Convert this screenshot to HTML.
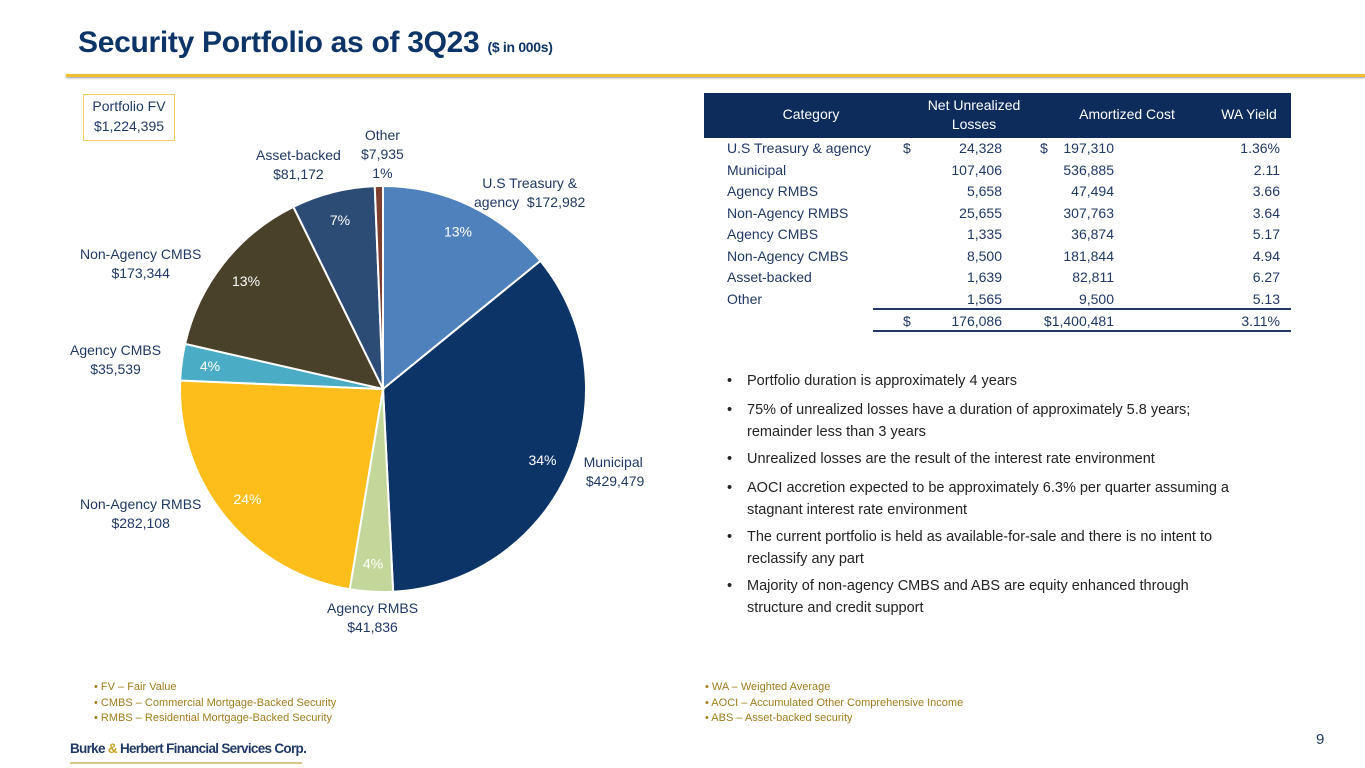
<!DOCTYPE html>
<html><head><meta charset="utf-8">
<style>
body{margin:0;width:1365px;height:768px;overflow:hidden;background:#fff;font-family:"Liberation Sans",sans-serif;position:relative}
.a{position:absolute;white-space:nowrap}
.lbl{position:absolute;text-align:center;font-size:14px;color:#1f3864;line-height:19px;white-space:nowrap}
.td{position:absolute;font-size:14px;color:#1f3864;line-height:20px}
.bul{position:absolute;left:727px;font-size:14.5px;color:#222;line-height:22px}
.bul span{position:absolute;left:20px;white-space:nowrap}
.fn{font-size:11px;color:#a07c1c;line-height:15.5px}
</style></head><body>
<div class="a" style="left:78px;top:26px;font-size:30px;font-weight:bold;color:#0d3466;letter-spacing:-0.3px">Security Portfolio as of 3Q23 <span style="font-size:14px">($ in 000s)</span></div>
<div class="a" style="left:66px;top:74px;width:1299px;height:3px;background:#f0be32;box-shadow:0 1px 2px #999"></div>

<div class="a" style="left:83px;top:94px;width:90px;height:44px;border:1.5px solid #f3cf66;text-align:center;font-size:14px;color:#1f3864;line-height:20px;padding-top:1px">Portfolio FV<br>$1,224,395</div>

<svg class="a" style="left:0;top:0" width="700" height="680" id="pie"></svg>

<div class="lbl" style="left:474px;top:174px">U.S Treasury &amp;<br>agency&nbsp; $172,982</div>
<div class="lbl" style="left:582px;top:453px">Municipal<br>&nbsp;$429,479</div>
<div class="lbl" style="left:327px;top:599px">Agency RMBS<br>$41,836</div>
<div class="lbl" style="left:80px;top:495px">Non-Agency RMBS<br>$282,108</div>
<div class="lbl" style="left:70px;top:341px">Agency CMBS<br>$35,539</div>
<div class="lbl" style="left:80px;top:245px">Non-Agency CMBS<br>$173,344</div>
<div class="lbl" style="left:256px;top:146px">Asset-backed<br>$81,172</div>
<div class="lbl" style="left:361px;top:126px">Other<br>$7,935<br>1%</div>

<div class="a" style="left:704px;top:93px;width:587px;height:45px;background:#0d2c5c;color:#fff;font-size:14px">
<div class="a" style="left:0;width:214px;top:13px;text-align:center">Category</div>
<div class="a" style="left:210px;width:120px;top:3px;text-align:center;line-height:19px;white-space:normal">Net Unrealized Losses</div>
<div class="a" style="left:348px;width:150px;top:13px;text-align:center">Amortized Cost</div>
<div class="a" style="left:500px;width:90px;top:13px;text-align:center">WA Yield</div>
</div>
<div id="rows"></div>
<div class="a" style="left:873px;top:308px;width:418px;height:1.5px;background:#1f3864"></div>
<div class="a" style="left:873px;top:330px;width:418px;height:1.5px;background:#1f3864"></div>

<div class="bul" style="top:370px">•<span>Portfolio duration is approximately 4 years</span></div>
<div class="bul" style="top:399px">•<span>75% of unrealized losses have a duration of approximately 5.8 years;<br>remainder less than 3 years</span></div>
<div class="bul" style="top:448px">•<span>Unrealized losses are the result of the interest rate environment</span></div>
<div class="bul" style="top:477px">•<span>AOCI accretion expected to be approximately 6.3% per quarter assuming a<br>stagnant interest rate environment</span></div>
<div class="bul" style="top:526px">•<span>The current portfolio is held as available-for-sale and there is no intent to<br>reclassify any part</span></div>
<div class="bul" style="top:575px">•<span>Majority of non-agency CMBS and ABS are equity enhanced through<br>structure and credit support</span></div>

<div class="a fn" style="left:94px;top:680px">• FV – Fair Value<br>• CMBS – Commercial Mortgage-Backed Security<br>• RMBS – Residential Mortgage-Backed Security</div>
<div class="a fn" style="left:705px;top:680px">• WA – Weighted Average<br>• AOCI – Accumulated Other Comprehensive Income<br>• ABS – Asset-backed security</div>

<div class="a" style="left:70px;top:741px;font-size:13.5px;font-weight:bold;color:#1f3864;letter-spacing:-0.7px">Burke <span style="color:#c9a227">&amp;</span> Herbert Financial Services Corp.</div>
<div class="a" style="left:70px;top:762px;width:232px;height:2px;background:#d8c68a"></div>
<div class="a" style="left:1316px;top:731px;font-size:15px;color:#1f3864">9</div>

<script>
const categories=["U.S Treasury & agency","Municipal","Agency RMBS","Non-Agency RMBS","Agency CMBS","Non-Agency CMBS","Asset-backed","Other"];
const fairValues=[172982,429479,41836,282108,35539,173344,81172,7935];
const pctLabels=["13%","34%","4%","24%","4%","13%","7%",""];
const colors=["#4f81bd","#0d3466","#c4d79b","#fdbd1a","#4bacc6","#4a412a","#2c4b75","#7f3f2f"];
const netLosses=["24,328","107,406","5,658","25,655","1,335","8,500","1,639","1,565","176,086"];
const amortCost=["197,310","536,885","47,494","307,763","36,874","181,844","82,811","9,500","$1,400,481"];
const waYield=["1.36%","2.11","3.66","3.64","5.17","4.94","6.27","5.13","3.11%"];

const svg=document.getElementById('pie');const NS='http://www.w3.org/2000/svg';
const cx=383,cy=389,r=203;const total=fairValues.reduce((a,b)=>a+b,0);
let ang=0;
fairValues.forEach((v,i)=>{
  const a0=ang,a1=ang+v/total*2*Math.PI;ang=a1;
  const p=(a)=>[cx+r*Math.sin(a),cy-r*Math.cos(a)];
  const [x0,y0]=p(a0),[x1,y1]=p(a1);
  const path=document.createElementNS(NS,'path');
  path.setAttribute('d',`M${cx},${cy}L${x0},${y0}A${r},${r} 0 ${a1-a0>Math.PI?1:0} 1 ${x1},${y1}Z`);
  path.setAttribute('fill',colors[i]);path.setAttribute('stroke','#fff');path.setAttribute('stroke-width','2');
  
  
  svg.appendChild(path);
  if(pctLabels[i]){
    const am=(a0+a1)/2,lr=r*0.86;
    const t=document.createElementNS(NS,'text');
    t.setAttribute('x',cx+lr*Math.sin(am));t.setAttribute('y',cy-lr*Math.cos(am)+5);
    t.setAttribute('text-anchor','middle');t.setAttribute('font-size','14');t.setAttribute('font-family','Liberation Sans');
    t.setAttribute('fill','#fff');
    
    
    t.textContent=pctLabels[i];svg.appendChild(t);
  }
});
const rows=document.getElementById('rows');
for(let i=0;i<9;i++){
  const y=138+i*21.5+(i==8?0.5:0);
  const mk=(txt,left,w,al)=>{const d=document.createElement('div');d.className='td';d.style.top=y+'px';d.style.left=left+'px';d.style.width=w+'px';d.style.textAlign=al;d.textContent=txt;rows.appendChild(d);return d;};
  if(i<8){const c=mk(categories[i],727,180,'left');}
  if(i==0||i==8){mk('$',903,12,'left');}
  if(i==0){mk('$',1040,12,'left');}
  const n=mk(netLosses[i],920,82,'right');
  const m=mk(amortCost[i],1020,94,'right');
  const w=mk(waYield[i],1200,80,'right');
}
</script>
</body></html>
